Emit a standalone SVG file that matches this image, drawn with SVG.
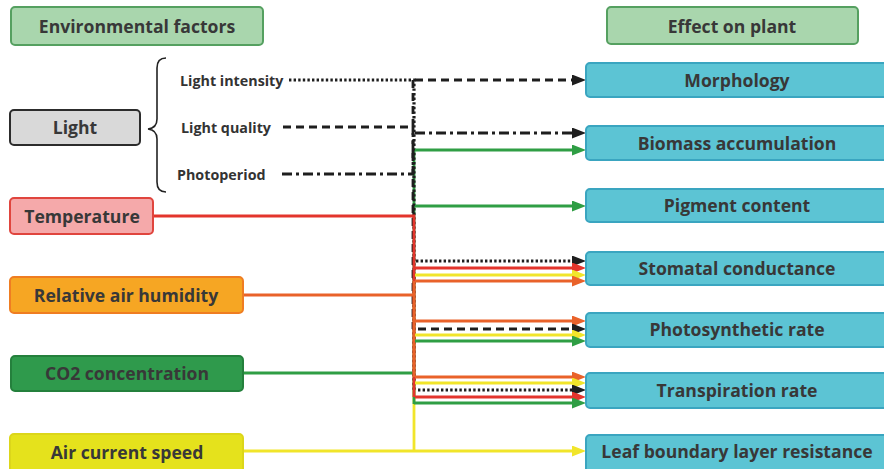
<svg xmlns="http://www.w3.org/2000/svg" width="884" height="469" viewBox="0 0 884 469">
  <defs>
    <style>
      .lbl { font-family: "Open Sans", "Liberation Sans", sans-serif; font-weight: 700; fill: #383838; text-anchor: middle; }
      .big { font-size: 17.6px; }
      .small { font-family: "Open Sans", "Liberation Sans", sans-serif; font-weight: 700; fill: #333; font-size: 14.3px; }
      .head { fill: #a9d6ad; stroke: #55a060; stroke-width: 2; }
      .effect { fill: #5cc4d4; stroke: #3aa5c0; stroke-width: 2; }
      .ln { fill: none; stroke-width: 2.8; }
      .k { stroke: #1e1e1e; }
      .r { stroke: #e3352c; }
      .o { stroke: #e9622a; }
      .y { stroke: #f1e52a; }
      .g { stroke: #2f9e44; }
      .dot { stroke-dasharray: 2.4 2.2; stroke-width: 3.2; }
      .dash { stroke-dasharray: 8 5; }
      .dd { stroke-dasharray: 10 4 3 4; }
    </style>
    <marker id="ak" viewBox="0 0 14 11" markerUnits="userSpaceOnUse" markerWidth="14" markerHeight="11" refX="3" refY="5.5" orient="auto"><path d="M0,0 L14,5.5 L0,11 z" fill="#1e1e1e"/></marker>
    <marker id="ar" viewBox="0 0 14 11" markerUnits="userSpaceOnUse" markerWidth="14" markerHeight="11" refX="3" refY="5.5" orient="auto"><path d="M0,0 L14,5.5 L0,11 z" fill="#e3352c"/></marker>
    <marker id="ao" viewBox="0 0 14 11" markerUnits="userSpaceOnUse" markerWidth="14" markerHeight="11" refX="3" refY="5.5" orient="auto"><path d="M0,0 L14,5.5 L0,11 z" fill="#e9622a"/></marker>
    <marker id="ay" viewBox="0 0 14 11" markerUnits="userSpaceOnUse" markerWidth="14" markerHeight="11" refX="3" refY="5.5" orient="auto"><path d="M0,0 L14,5.5 L0,11 z" fill="#f1e52a"/></marker>
    <marker id="ag" viewBox="0 0 14 11" markerUnits="userSpaceOnUse" markerWidth="14" markerHeight="11" refX="3" refY="5.5" orient="auto"><path d="M0,0 L14,5.5 L0,11 z" fill="#2f9e44"/></marker>
  </defs>

  <rect width="884" height="469" fill="#ffffff"/>

  <!-- connectors -->
  <g id="connectors">
    <!-- yellow: air current speed -->
    <path class="ln y" d="M243,451 H575" marker-end="url(#ay)"/>
    <path class="ln y" d="M414,451 V275"/>
    <!-- green: CO2 concentration -->
    <path class="ln g" d="M243,373 H414"/>
    <path class="ln g" d="M414,150 V404"/>
    <!-- black: light sub-factors -->
    <path class="ln k dot" d="M289,80 H414 V390"/>
    <path class="ln k dash" d="M283,127 H413 V329"/>
    <path class="ln k dash" d="M413,80 V127"/>
    <path class="ln k dd" d="M282,174 H413 V133"/>
    <!-- red: temperature -->
    <path class="ln r" d="M153,216 H414 V397"/>
    <!-- orange: relative air humidity -->
    <path class="ln o" d="M243,295 H414"/>
    <path class="ln o" d="M414,281 V377"/>

    <!-- Morphology -->
    <path class="ln k dash" d="M415,80 H575" marker-end="url(#ak)"/>
    <!-- Biomass accumulation -->
    <path class="ln k dd" d="M415,133 H575" marker-end="url(#ak)"/>
    <path class="ln g" d="M415,150 H575" marker-end="url(#ag)"/>
    <!-- Pigment content -->
    <path class="ln g" d="M415,206 H575" marker-end="url(#ag)"/>
    <!-- Stomatal conductance -->
    <path class="ln k dot" d="M416,261 H575" marker-end="url(#ak)"/>
    <path class="ln r" d="M415,268 H575" marker-end="url(#ar)"/>
    <path class="ln y" d="M415,275 H575" marker-end="url(#ay)"/>
    <path class="ln o" d="M415,281 H575" marker-end="url(#ao)"/>
    <!-- Photosynthetic rate -->
    <path class="ln o" d="M415,321 H575" marker-end="url(#ao)"/>
    <path class="ln k dash" d="M418,329 H575" marker-end="url(#ak)"/>
    <path class="ln y" d="M415,335 H575" marker-end="url(#ay)"/>
    <path class="ln g" d="M415,341 H575" marker-end="url(#ag)"/>
    <!-- Transpiration rate -->
    <path class="ln o" d="M415,377 H575" marker-end="url(#ao)"/>
    <path class="ln y" d="M415,383 H575" marker-end="url(#ay)"/>
    <path class="ln k dot" d="M418,390 H575" marker-end="url(#ak)"/>
    <path class="ln r" d="M415,397 H575" marker-end="url(#ar)"/>
    <path class="ln g" d="M414,403 H575" marker-end="url(#ag)"/>
  </g>

  <!-- column headers -->
  <g id="hdr-env">
    <rect class="head" x="11" y="7" width="252" height="38" rx="4"/>
    <text class="lbl big" x="137" y="33">Environmental factors</text>
  </g>
  <g id="hdr-effect">
    <rect class="head" x="607" y="7" width="251" height="37" rx="4"/>
    <text class="lbl big" x="732" y="33">Effect on plant</text>
  </g>

  <!-- environmental factors -->
  <g id="light">
    <rect x="10" y="110" width="130" height="35" rx="4" fill="#d9d9d9" stroke="#2c2c2c" stroke-width="2"/>
    <text class="lbl big" x="75" y="134">Light</text>
    <path d="M166,58 Q157,58 157,68 V119 Q157,128 148,129 Q157,130 157,139 V182 Q157,192 166,192" fill="none" stroke="#222" stroke-width="1.6"/>
  </g>
  <g id="light-intensity"><text class="small" x="180" y="86">Light intensity</text></g>
  <g id="light-quality"><text class="small" x="181" y="133">Light quality</text></g>
  <g id="photoperiod"><text class="small" x="177" y="180">Photoperiod</text></g>
  <g id="temperature">
    <rect x="10" y="198" width="143" height="36" rx="4" fill="#f5a9aa" stroke="#e0453e" stroke-width="2"/>
    <text class="lbl big" x="82" y="223">Temperature</text>
  </g>
  <g id="humidity">
    <rect x="10" y="277" width="233" height="36" rx="4" fill="#f6a623" stroke="#ef7d22" stroke-width="2"/>
    <text class="lbl big" x="126" y="302">Relative air humidity</text>
  </g>
  <g id="co2">
    <rect x="11" y="356" width="232" height="35" rx="4" fill="#2f9a4c" stroke="#24803c" stroke-width="2"/>
    <text class="lbl big" x="127" y="380">CO2 concentration</text>
  </g>
  <g id="air-speed">
    <rect x="10" y="434" width="233" height="40" rx="4" fill="#e5e21c" stroke="#dcd61a" stroke-width="2"/>
    <text class="lbl big" x="127" y="459">Air current speed</text>
  </g>

  <!-- effects on plant -->
  <g id="morphology">
    <rect class="effect" x="586" y="63" width="310" height="34" rx="4"/>
    <text class="lbl big" x="737" y="87">Morphology</text>
  </g>
  <g id="biomass">
    <rect class="effect" x="586" y="126" width="310" height="34" rx="4"/>
    <text class="lbl big" x="737" y="150">Biomass accumulation</text>
  </g>
  <g id="pigment">
    <rect class="effect" x="586" y="189" width="310" height="33" rx="4"/>
    <text class="lbl big" x="737" y="212">Pigment content</text>
  </g>
  <g id="stomatal">
    <rect class="effect" x="586" y="252" width="310" height="33" rx="4"/>
    <text class="lbl big" x="737" y="275">Stomatal conductance</text>
  </g>
  <g id="photosynthetic">
    <rect class="effect" x="586" y="313" width="310" height="34" rx="4"/>
    <text class="lbl big" x="737" y="336">Photosynthetic rate</text>
  </g>
  <g id="transpiration">
    <rect class="effect" x="586" y="373" width="310" height="35" rx="4"/>
    <text class="lbl big" x="737" y="397">Transpiration rate</text>
  </g>
  <g id="leaf-boundary">
    <rect class="effect" x="586" y="435" width="310" height="40" rx="4"/>
    <text class="lbl big" x="737" y="458">Leaf boundary layer resistance</text>
  </g>
</svg>
